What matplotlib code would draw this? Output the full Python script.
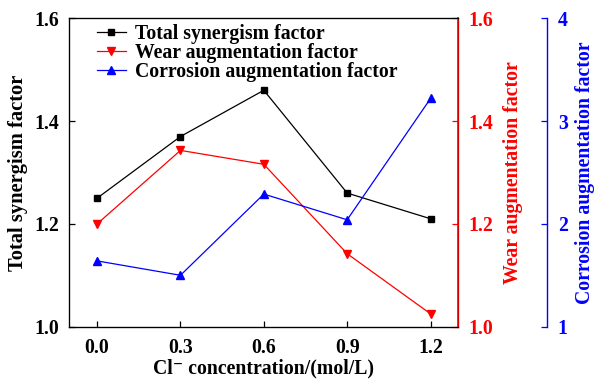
import matplotlib
matplotlib.use("Agg")
import matplotlib.pyplot as plt

plt.rcParams["font.family"] = ["Liberation Serif", "DejaVu Serif"]
plt.rcParams["font.weight"] = "bold"

# Cl- concentration (mol/L)
concentration = [0.0, 0.3, 0.6, 0.9, 1.2]
x_ticklabels = ["0.0", "0.3", "0.6", "0.9", "1.2"]

total_synergism = [1.25, 1.37, 1.46, 1.26, 1.21]
wear_augmentation = [1.20, 1.343, 1.316, 1.142, 1.025]
corrosion_augmentation = [1.64, 1.50, 2.29, 2.04, 3.22]

fs = 14.2
fig = plt.figure(figsize=(5.96, 3.80), dpi=100)
ax = fig.add_axes([0.1163, 0.1403, 0.6527, 0.8115])
ax_w = ax.twinx()
ax_c = ax.twinx()
ax_c.spines["right"].set_position(("axes", 1.2273))

l1, = ax.plot(concentration, total_synergism, color="black", lw=0.9,
              marker="s", ms=4.5, label="Total synergism factor")
l2, = ax_w.plot(concentration, wear_augmentation, color="red", lw=0.9,
                marker="v", ms=6, label="Wear augmentation factor")
l3, = ax_c.plot(concentration, corrosion_augmentation, color="blue", lw=0.9,
                marker="^", ms=6, label="Corrosion augmentation factor")

ax.set_xlim(-0.1, 1.3)
ax.set_xticks(concentration)
ax.set_xticklabels(x_ticklabels)
ax.set_ylim(1.0, 1.6)
ax.set_yticks([1.0, 1.2, 1.4, 1.6])
ax.set_yticklabels(["1.0", "1.2", "1.4", "1.6"])
ax_w.set_ylim(1.0, 1.6)
ax_w.set_yticks([1.0, 1.2, 1.4, 1.6])
ax_w.set_yticklabels(["1.0", "1.2", "1.4", "1.6"])
ax_c.set_ylim(1, 4)
ax_c.set_yticks([1, 2, 3, 4])

ax.set_xlabel("Cl\u207b concentration/(mol/L)", fontsize=fs, fontweight="bold", labelpad=0.5)
ax.set_ylabel("Total synergism factor", fontsize=14.8, fontweight="bold", labelpad=5)
ax_w.set_ylabel("Wear augmentation factor", fontsize=fs, fontweight="bold",
                color="red", labelpad=7)
ax_c.set_ylabel("Corrosion augmentation factor", fontsize=fs, fontweight="bold",
                color="blue", labelpad=5)

ax.tick_params(axis="y", direction="in", length=4, width=0.9, labelsize=fs, pad=7)
ax.tick_params(axis="x", direction="in", length=4, width=0.9, labelsize=fs, pad=8)
ax_w.tick_params(axis="y", direction="in", length=4, width=0.9, colors="red",
                 labelsize=fs, pad=7)
ax_c.tick_params(axis="y", direction="in", length=4, width=0.9, colors="blue",
                 labelsize=fs, pad=8)

for s in ax.spines.values():
    s.set_linewidth(0.9)
ax_w.spines["right"].set_color("red")
ax_w.spines["right"].set_linewidth(1.2)
for sp in ["left", "top", "bottom"]:
    ax_c.spines[sp].set_visible(False)
ax_c.spines["right"].set_color("blue")
ax_c.spines["right"].set_linewidth(1.0)

leg = ax.legend(handles=[l1, l2, l3], loc="upper left", frameon=False,
                fontsize=fs, handlelength=1.5, handletextpad=0.42,
                labelspacing=-0.035, borderaxespad=0, borderpad=0,
                bbox_to_anchor=(0.0704, 0.983))

fig.savefig("out.png", dpi=100)
